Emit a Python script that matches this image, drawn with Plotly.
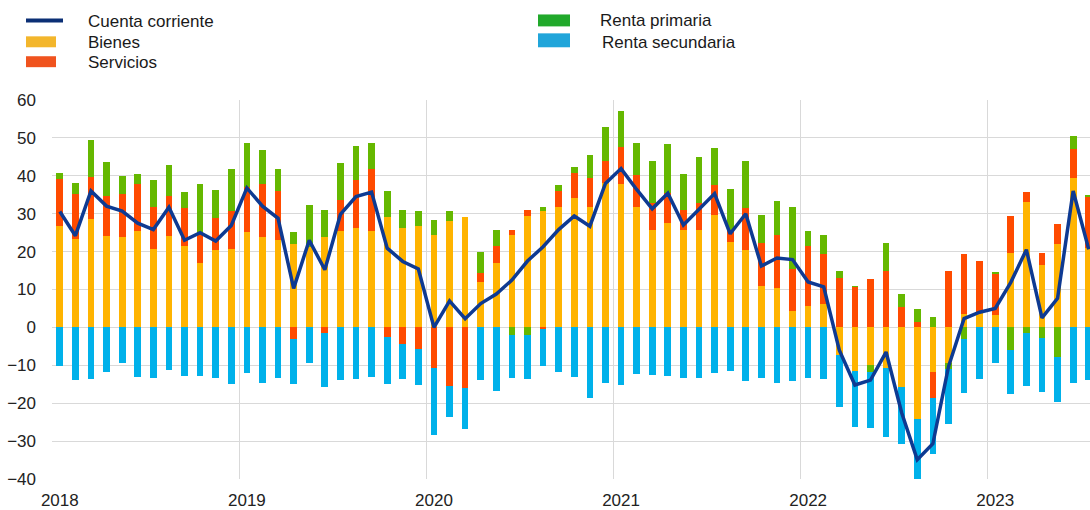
import pandas as pd
import plotly.graph_objects as go

months = pd.date_range("2018-01-01", "2023-07-01", freq="MS").strftime("%Y-%m").tolist()

bienes = [26.8, 23.3, 28.5, 24.1, 23.8, 25.5, 20.6, 24.1, 21.4, 17.1, 20.4, 20.6,
          25.1, 23.8, 23.1, 21.9, 21.1, 23.8, 25.4, 26.3, 25.4, 29.0, 26.1, 26.8,
          24.4, 28.1, 29.2, 12.1, 17.1, 24.4, 29.5, 30.6, 31.8, 34.2, 31.8, 38.0,
          37.9, 31.9, 25.8, 27.5, 25.6, 25.6, 29.6, 22.6, 20.4, 10.8, 10.4, 4.2,
          5.7, 6.2, -7.3, -11.5, -9.8, -10.8, -15.7, -24.1, -11.7, -9.3, 3.5, 4.0,
          3.3, 19.7, 33.1, 16.4, 21.9, 39.4, 21.0]
servicios = [12.3, 12.0, 11.3, 10.5, 11.5, 12.3, 11.2, 10.5, 10.0, 7.5, 8.4, 10.1,
             12.0, 14.0, 12.8, -3.1, 0.0, -1.4, 8.3, 12.5, 16.5, -2.6, -4.4, -5.6,
             -10.7, -15.4, -15.9, 2.2, 4.3, 1.4, 1.6, -0.3, 4.3, 6.6, 7.5, 5.8,
             9.7, 8.2, 7.1, 8.0, 5.3, 7.3, 8.0, 2.9, 11.1, 11.6, 14.0, 11.1,
             15.7, 13.2, 13.0, 10.7, 12.8, 14.8, 5.5, 1.5, -6.8, 14.8, 16.0, 13.4,
             10.8, 9.8, 2.7, 3.3, 5.5, 7.8, 13.5]
renta_primaria = [1.6, 2.9, 9.7, 9.1, 4.7, 2.7, 7.2, 8.3, 4.4, 13.2, 7.5, 11.2,
                  11.5, 9.1, 6.0, 3.4, 11.3, 7.1, 9.7, 9.1, 6.7, 7.0, 4.8, 3.8,
                  3.9, 2.5, 0.0, 5.7, 4.2, -1.9, -1.9, 1.1, 1.5, 1.6, 6.1, 9.0,
                  9.5, 8.5, 11.1, 12.9, 9.6, 12.1, 9.8, 10.9, 12.5, 7.3, 8.9, 16.6,
                  4.1, 4.9, 2.0, 0.2, -1.9, 7.6, 3.2, 3.4, 2.7, -1.6, -3.0, 0.0,
                  0.4, -6.0, -1.4, -2.9, -7.8, 3.4, 0.3]
renta_secundaria = [-10.1, -13.8, -13.6, -11.7, -9.3, -13.2, -13.3, -11.2, -12.9, -12.9, -13.3, -15.0,
                    -11.9, -14.7, -13.3, -11.9, -9.5, -14.2, -13.8, -13.6, -13.1, -12.4, -9.2, -9.7,
                    -17.6, -8.3, -11.0, -13.9, -16.8, -11.5, -11.7, -9.8, -11.7, -13.1, -18.7, -14.8,
                    -15.2, -12.3, -12.6, -12.9, -13.4, -13.4, -12.0, -11.6, -14.1, -13.4, -14.8, -14.1,
                    -13.4, -13.6, -13.7, -14.7, -14.9, -18.0, -15.0, -15.9, -14.9, -14.6, -14.2, -13.6,
                    -9.5, -11.6, -14.0, -14.2, -12.0, -14.8, -13.9]
cuenta_corriente = [30.6, 24.2, 36.0, 32.0, 30.7, 27.5, 25.8, 31.7, 23.0, 25.0, 22.8, 26.9,
                    36.8, 32.0, 28.8, 10.3, 23.0, 15.2, 29.8, 34.5, 35.7, 20.9, 17.4, 15.4,
                    0.0, 7.0, 2.3, 6.3, 8.8, 12.5, 17.5, 21.3, 25.8, 29.4, 26.7, 38.0,
                    41.9, 36.4, 31.3, 35.4, 27.0, 31.3, 35.3, 24.7, 30.0, 16.2, 18.3, 17.9,
                    12.0, 10.7, -6.0, -15.2, -13.9, -6.5, -22.5, -34.9, -30.7, -10.4, 2.3, 4.0,
                    5.0, 11.9, 20.5, 2.5, 7.7, 36.0, 20.6]

year_labels = ["2018", "2019", "2020", "2021", "2022", "2023"]

names = ["Cuenta corriente", "Bienes", "Servicios", "Renta primaria", "Renta secundaria"]
bar_colors = ["#FFB400", "#FF4B00", "#65B800", "#00B1EA"]
legend_colors = ["#0B2F75", "#F3B62C", "#F0531E", "#21A92B", "#21A5DA"]
line_color = "#0E3A92"

x = list(range(len(months)))
year_pos = [months.index(y + "-01") for y in year_labels]
grid_pos = [p - 0.5 for p in year_pos]

fig = go.Figure()
for vals, name, col in zip([bienes, servicios, renta_primaria, renta_secundaria], names[1:], bar_colors):
    fig.add_trace(go.Bar(x=x, y=vals, name=name, marker=dict(color=col, line=dict(width=0)),
                         width=0.43, showlegend=False, customdata=months))
fig.add_trace(go.Scatter(x=x, y=cuenta_corriente, name=names[0], mode="lines",
                         line=dict(color=line_color, width=3.5), showlegend=False))

font = "Liberation Sans, Arial, sans-serif"
L, R, T, B = 52, 1090, 100, 481
FW, FH = 1090, 510


def px(v):
    return (v - L) / (R - L)


def py(v):
    return (B - v) / (B - T)


shapes = []
annotations = []
# legend column 1
shapes.append(dict(type="line", xref="paper", yref="paper", x0=px(26), x1=px(63), y0=py(20), y1=py(20),
                   line=dict(color=legend_colors[0], width=4)))
for (y0, y1, col) in [(36, 47, legend_colors[1]), (56, 67, legend_colors[2])]:
    shapes.append(dict(type="rect", xref="paper", yref="paper", x0=px(26), x1=px(56), y0=py(y1), y1=py(y0),
                       fillcolor=col, line=dict(width=0)))
for (ty, txt) in [(21, names[0]), (42.5, names[1]), (62, names[2])]:
    annotations.append(dict(xref="paper", yref="paper", x=px(86), y=py(ty), text=txt, showarrow=False,
                            xanchor="left", yanchor="middle", font=dict(family=font, size=17, color="#1a1a1a")))
# legend column 2
for (y0, y1, col) in [(14, 26, legend_colors[3]), (33, 47, legend_colors[4])]:
    shapes.append(dict(type="rect", xref="paper", yref="paper", x0=px(538), x1=px(570), y0=py(y1), y1=py(y0),
                       fillcolor=col, line=dict(width=0)))
for (tx, ty, txt) in [(598, 20, names[3]), (600, 42, names[4])]:
    annotations.append(dict(xref="paper", yref="paper", x=px(tx), y=py(ty), text=txt, showarrow=False,
                            xanchor="left", yanchor="middle", font=dict(family=font, size=17, color="#1a1a1a")))

fig.update_layout(
    width=FW, height=FH,
    margin=dict(l=L, r=FW - R, t=T, b=FH - B),
    barmode="relative", bargap=0,
    plot_bgcolor="white", paper_bgcolor="white",
    font=dict(family=font, size=17, color="#222222"),
    shapes=shapes, annotations=annotations,
    showlegend=False,
)
fig.update_xaxes(
    range=[-0.5, 66.08], tickmode="array", tickvals=year_pos, ticktext=year_labels,
    showgrid=False, zeroline=False, showline=False, ticks="", ticklabelstandoff=9,
    minor=dict(tickmode="array", tickvals=grid_pos, showgrid=True, gridcolor="#d9d9d9", gridwidth=1, ticks=""),
    tickfont=dict(size=17, color="#222222"),
)
fig.update_yaxes(
    range=[-40, 60], dtick=10, tick0=0, showgrid=True, gridcolor="#d9d9d9", gridwidth=1,
    zeroline=False, showline=False, ticks="", ticklabelstandoff=15,
    tickfont=dict(size=17, color="#222222"),
)

page_style = "document.body.style.margin='0';document.body.style.overflow='hidden';"
fig.write_html("out.html", post_script=page_style, config={"displayModeBar": False})
